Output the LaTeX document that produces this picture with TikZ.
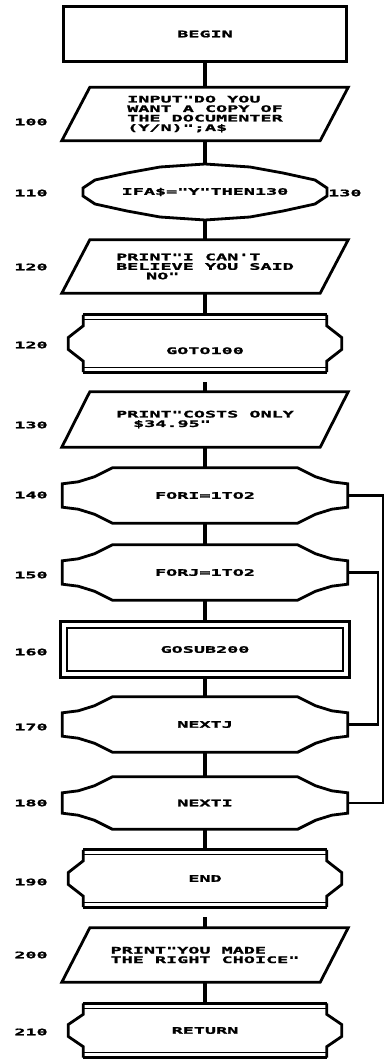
\documentclass[tikz,border=0pt]{standalone}
\usepackage{fontspec}
\newfontfamily\dotmatrix[FakeStretch=2.05,FakeBold=1.6,Ligatures=TeXOff]{DejaVu Sans Mono}
\newcommand\flowtext{\dotmatrix\bfseries\fontsize{9}{9.5}\selectfont}

\begin{document}
\begin{tikzpicture}[x=1pt,y=-1pt,
plain box/.style={minimum width=283pt,minimum height=54pt,inner sep=0pt,font=\flowtext,align=left},
io box/.style={plain box,minimum width=286pt,minimum height=53pt},
test box/.style={plain box,minimum width=244pt,minimum height=56pt},
brace box/.style={plain box,minimum width=273pt,minimum height=57pt},
loop box/.style={plain box,minimum width=285pt,minimum height=55pt},
sub box/.style={plain box,minimum width=288pt,minimum height=55pt},
line no/.style={font=\flowtext,inner sep=0pt},
outline/.style={line width=2.8pt,line join=miter},
thin bar/.style={line width=1.3pt},
flow/.style={line width=4pt},
back/.style={line width=2.2pt}]
\useasboundingbox (0,0) rectangle (386,1060);

\node[plain box] (begin) at (205,34) {BEGIN};
\node[io box] (in100) at (205,114) {INPUT"DO YOU\\WANT A COPY OF\\THE DOCUMENTER\\(Y/N)";A\$};
\node[test box] (if110) at (205,192) {IFA\$="Y"THEN130};
\node[line no,anchor=west] (to130) at (328,193) {130};
\node[io box] (pr120) at (205,266.5) {PRINT"I CAN'T\\BELIEVE YOU SAID\\\hspace*{30pt}NO"};
\node[brace box,text height=21pt,text depth=0pt] (goto120) at (205,343.5) {GOTO100};
\coordinate (s130) at (205,382);
\node[io box,minimum height=55pt] (pr130) at (205,419.5) {PRINT"COSTS ONLY\\\hspace*{17pt}\$34.95"};
\node[loop box] (for140) at (205,495.5) {FORI=1TO2};
\node[loop box] (for150) at (205,572.5) {FORJ=1TO2};
\node[sub box] (gosub160) at (205,649.5) {GOSUB200};
\node[loop box] (next170) at (205,724.5) {NEXTJ};
\node[loop box,minimum height=52pt] (next180) at (205,803) {NEXTI};
\node[brace box] (end190) at (205,878.5) {END};
\coordinate (s200) at (205,917);
\node[io box,minimum height=54pt] (pr200) at (205,955) {PRINT"YOU MADE\\THE RIGHT CHOICE"};
\node[brace box,minimum height=54pt] (ret210) at (205,1030.5) {RETURN};

% line numbers
\foreach \y/\t [count=\i] in {122/100,193/110,267/120,345/120,425/130,495/140,575/150,652/160,727/170,803/180,882/190,955/200,1032/210}
  \node[line no] (no\i) at (31,\y) {\t};

% outlines
\draw[outline] (begin.north west) rectangle (begin.south east);
\foreach \n in {in100,pr120,pr130,pr200}
  \draw[outline] ([xshift=28pt]\n.north west) -- (\n.north east)
    -- ([xshift=-28pt]\n.south east) -- (\n.south west) -- cycle;
\begin{scope}[shift={(if110.center)}]
\draw[outline] (-122,-4) -- (-110,-12) -- (-78,-19) -- (-45,-25) -- (0,-28)
  -- (45,-25) -- (78,-19) -- (110,-12) -- (122,-4) -- (122,4) -- (110,12)
  -- (78,19) -- (45,25) -- (0,28) -- (-45,25) -- (-78,19) -- (-110,12)
  -- (-122,4) -- cycle;
\end{scope}
\foreach \n in {for140,for150,next170,next180}
  \draw[outline] ([shift={(0,16)}]\n.north west) -- ([shift={(16,14)}]\n.north west)
    -- ([shift={(32,9)}]\n.north west) -- ([shift={(50,0)}]\n.north west)
    -- ([shift={(-50,0)}]\n.north east) -- ([shift={(-32,9)}]\n.north east)
    -- ([shift={(-16,14)}]\n.north east) -- ([shift={(0,16)}]\n.north east)
    -- ([shift={(0,-16)}]\n.south east) -- ([shift={(-16,-14)}]\n.south east)
    -- ([shift={(-32,-9)}]\n.south east) -- ([shift={(-50,0)}]\n.south east)
    -- ([shift={(50,0)}]\n.south west) -- ([shift={(32,-9)}]\n.south west)
    -- ([shift={(16,-14)}]\n.south west) -- ([shift={(0,-16)}]\n.south west) -- cycle;
\draw[outline] (gosub160.north west) rectangle (gosub160.south east);
\draw[line width=1.8pt] ([shift={(6,6)}]gosub160.north west) rectangle ([shift={(-6,-6)}]gosub160.south east);
\foreach \n in {goto120,end190,ret210} {
  \draw[outline] ([xshift=15pt]\n.north west) -- ([xshift=-15pt]\n.north east);
  \draw[thin bar] ([shift={(15,5)}]\n.north west) -- ([shift={(-15,5)}]\n.north east);
  \draw[outline] ([xshift=15pt]\n.south west) -- ([xshift=-15pt]\n.south east);
  \draw[thin bar] ([shift={(15,-5)}]\n.south west) -- ([shift={(-15,-5)}]\n.south east);
  \draw[outline] ([xshift=15pt]\n.north west) -- ([shift={(15,11)}]\n.north west)
    -- ([shift={(0,-6)}]\n.west) -- ([shift={(0,6)}]\n.west)
    -- ([shift={(15,-11)}]\n.south west) -- ([xshift=15pt]\n.south west);
  \draw[outline] ([xshift=-15pt]\n.north east) -- ([shift={(-15,11)}]\n.north east)
    -- ([shift={(0,-6)}]\n.east) -- ([shift={(0,6)}]\n.east)
    -- ([shift={(-15,-11)}]\n.south east) -- ([xshift=-15pt]\n.south east);
}

% connectors
\foreach \a/\b in {begin/in100,in100/if110,if110/pr120,pr120/goto120,s130/pr130,pr130/for140,for140/for150,for150/gosub160,gosub160/next170,next170/next180,next180/end190,s200/pr200,pr200/ret210}
  \draw[flow] (\a) -- (\b);
\draw[back] (for140.east) -- ++(35.5,0) |- (next180.east);
\draw[back] (for150.east) -- ++(30,0) |- (next170.east);
\end{tikzpicture}
\end{document}
